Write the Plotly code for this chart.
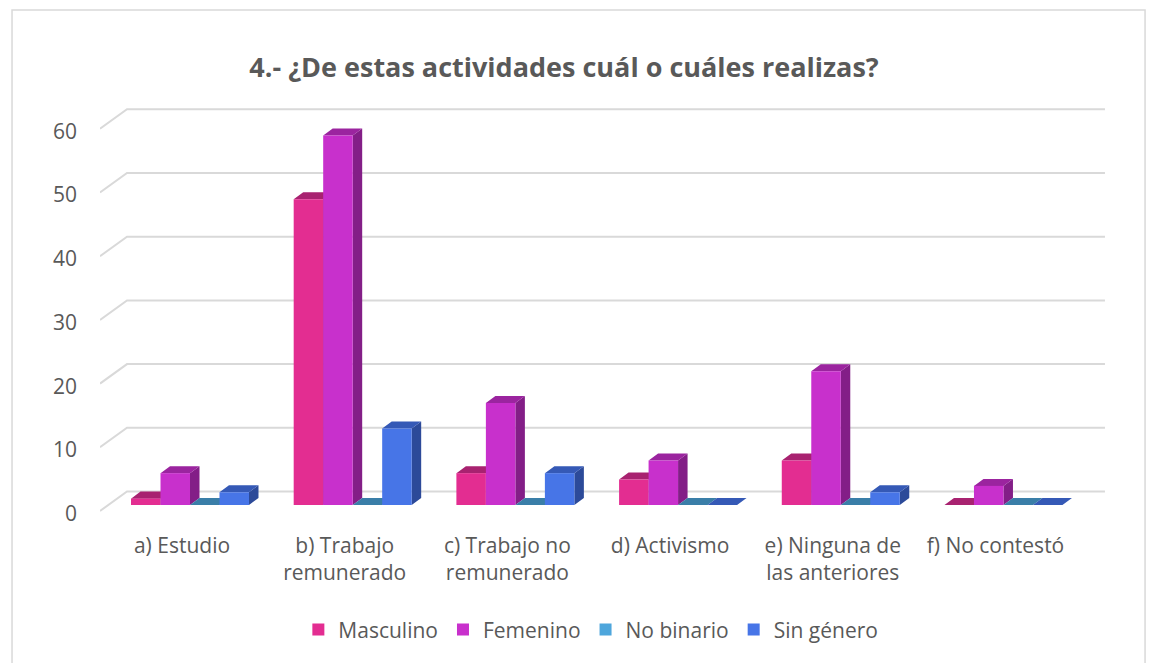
import plotly.graph_objects as go

# ---------------- data ----------------
categories = ["a) Estudio", "b) Trabajo<br>remunerado", "c) Trabajo no<br>remunerado",
              "d) Activismo", "e) Ninguna de<br>las anteriores", "f) No contestó"]
series_names = ["Masculino", "Femenino", "No binario", "Sin género"]
masculino = [1, 48, 5, 4, 7, 0]
femenino = [5, 58, 16, 7, 21, 3]
no_binario = [0, 0, 0, 0, 0, 0]
sin_genero = [2, 12, 5, 0, 2, 0]
y_ticks = [0, 10, 20, 30, 40, 50, 60]

series_values = [masculino, femenino, no_binario, sin_genero]

# ---------------- style ----------------
front_colors = ["#E32D91", "#C830CC", "#4EA6DC", "#4775E7"]
top_colors = ["#A82270", "#9B249F", "#3A7EA8", "#3559B6"]
side_colors = ["#9A1F66", "#831E87", "#2F6A8E", "#2C4A99"]
TXT = "#595959"
GRID = "#D9D9D9"
FONT = "Open Sans"

# geometry (axis units)
BAR_W = 0.1813
OFF0 = -0.2228
DX = 0.0584       # 3D depth offset along x
DY = 1.10         # 3D depth offset along y
Y_RANGE = [-1.57, 63.58]
X_RANGE = [-0.504, 5.704]
LABEL_SHIFT = 1.35   # y tick labels sit at the front edge of the floor
GRID_FRONT_DY = 0.94
GRID_FRONT_X, GRID_BACK_X, GRID_RIGHT_X = -0.504, -0.338, 5.673
GRID_BACK_DY = 2.12

fig = go.Figure()

# top and side faces (drawn below the front faces)
for j, vals in enumerate(series_values):
    off = OFF0 + j * BAR_W
    tx, ty, sx, sy = [], [], [], []
    for i, v in enumerate(vals):
        L = i + off - BAR_W / 2
        R = i + off + BAR_W / 2
        tx += [L, L + DX, R + DX, R, L, None]
        ty += [v, v + DY, v + DY, v, v, None]
        if v > 0:
            sx += [R, R, R + DX, R + DX, R, None]
            sy += [0, v, v + DY, DY, 0, None]
    fig.add_trace(go.Scatter(x=sx, y=sy, fill="toself", mode="lines",
                             line=dict(width=0, color=side_colors[j]),
                             fillcolor=side_colors[j], showlegend=False,
                             hoverinfo="skip"))
    fig.add_trace(go.Scatter(x=tx, y=ty, fill="toself", mode="lines",
                             line=dict(width=0, color=top_colors[j]),
                             fillcolor=top_colors[j], showlegend=False,
                             hoverinfo="skip"))

# front faces as bars (on an overlaying axis so they sit above the faces)
for j, vals in enumerate(series_values):
    off = OFF0 + j * BAR_W
    fig.add_trace(go.Bar(x=[i + off for i in range(len(vals))], y=vals,
                         width=BAR_W, name=series_names[j], yaxis="y2",
                         marker=dict(color=front_colors[j], line=dict(width=0)),
                         hovertemplate="%{y}<extra>" + series_names[j] + "</extra>"))

# dummy trace carrying the tick-label axis
fig.add_trace(go.Scatter(x=[None], y=[None], yaxis="y3", showlegend=False,
                         hoverinfo="skip"))

# gridlines (back wall + floor diagonal)
shapes = []
for t in y_ticks:
    shapes.append(dict(type="path", xref="x", yref="y", layer="below",
                       path=f"M {GRID_FRONT_X} {t - GRID_FRONT_DY} L {GRID_BACK_X} {t + GRID_BACK_DY} "
                            f"L {GRID_RIGHT_X} {t + GRID_BACK_DY}",
                       line=dict(color=GRID, width=2)))
# outer chart border
shapes.append(dict(type="rect", xref="paper", yref="paper", x0=-0.0871, x1=1.0347,
                   y0=-0.40, y1=1.2169, line=dict(color=GRID, width=1.5), layer="below"))

fig.update_layout(
    width=1157, height=663,
    margin=dict(l=92, r=55, t=92, b=156),
    paper_bgcolor="white", plot_bgcolor="white",
    barmode="overlay",
    font=dict(family=FONT, color=TXT, size=21),
    title=dict(text="<b>4.- ¿De estas actividades cuál o cuáles realizas?</b>",
               x=0.4806, xanchor="center", y=0.9095, yanchor="middle",
               font=dict(family=FONT, size=27, color=TXT)),
    xaxis=dict(range=X_RANGE, tickmode="array", tickvals=list(range(len(categories))),
               ticktext=categories, showgrid=False, zeroline=False, showline=False,
               ticks="", tickfont=dict(size=21, color=TXT), ticklabelstandoff=16,
               fixedrange=True),
    yaxis=dict(range=Y_RANGE, showgrid=False, zeroline=False, showticklabels=False,
               fixedrange=True),
    yaxis2=dict(range=Y_RANGE, overlaying="y", visible=False, fixedrange=True),
    yaxis3=dict(range=[Y_RANGE[0] + LABEL_SHIFT, Y_RANGE[1] + LABEL_SHIFT],
                overlaying="y", side="left", tickmode="array", tickvals=y_ticks,
                showgrid=False, zeroline=False, showline=False, ticks="",
                tickfont=dict(size=21, color=TXT), ticklabelstandoff=22,
                fixedrange=True),
    legend=dict(orientation="h", x=0.486, xanchor="center", y=-0.277, yanchor="middle",
                font=dict(size=21, color=TXT), itemwidth=30, traceorder="normal"),
    shapes=shapes,
    showlegend=True,
)

fig.write_html("out.html")
